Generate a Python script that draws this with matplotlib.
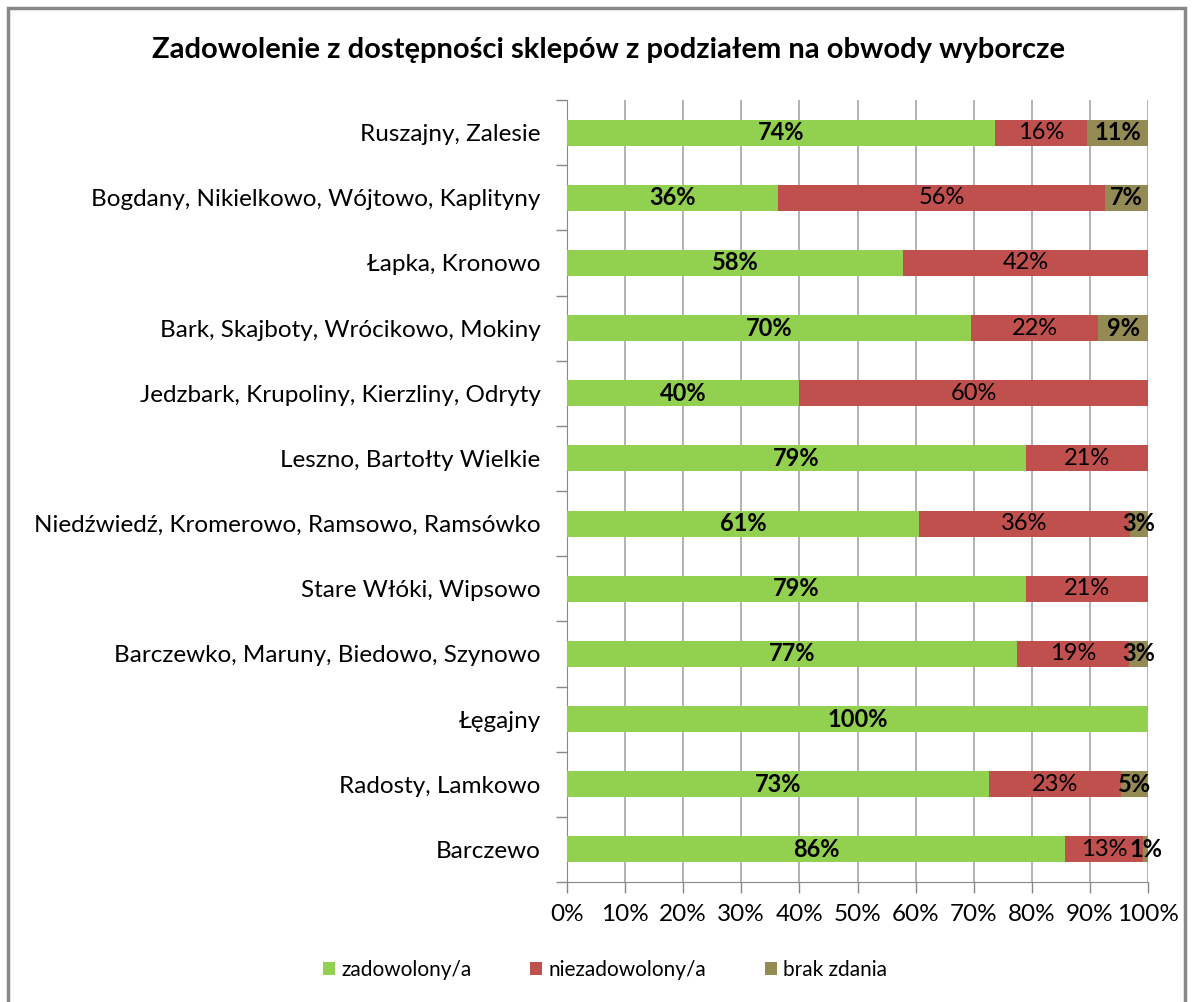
import matplotlib
matplotlib.use("Agg")
import matplotlib.pyplot as plt
from matplotlib.patches import Rectangle
import numpy as np

plt.rcParams['font.family'] = ['Lato', 'DejaVu Sans']

categories = [
    "Ruszajny, Zalesie",
    "Bogdany, Nikielkowo, Wójtowo, Kaplityny",
    "Łapka, Kronowo",
    "Bark, Skajboty, Wrócikowo, Mokiny",
    "Jedzbark, Krupoliny, Kierzliny, Odryty",
    "Leszno, Bartołty Wielkie",
    "Niedźwiedź, Kromerowo, Ramsowo, Ramsówko",
    "Stare Włóki, Wipsowo",
    "Barczewko, Maruny, Biedowo, Szynowo",
    "Łęgajny",
    "Radosty, Lamkowo",
    "Barczewo",
]
zadowolony = [73.7, 36.4, 57.8, 69.6, 40.0, 79.0, 60.6, 79.0, 77.4, 100.0, 72.6, 85.8]
niezadowolony = [15.8, 56.2, 42.2, 21.8, 60.0, 21.0, 36.3, 21.0, 19.4, 0.0, 22.8, 13.4]
brak = [10.6, 7.4, 0.0, 8.6, 0.0, 0.0, 3.1, 0.0, 3.2, 0.0, 4.6, 0.8]
series_names = ["zadowolony/a", "niezadowolony/a", "brak zdania"]
colors = ["#92d050", "#c0504d", "#948a54"]
xticks = list(range(0, 101, 10))

fig = plt.figure(figsize=(11.92, 10.02), dpi=100)
fig.patch.set_facecolor("white")
# outer frame
fig.add_artist(Rectangle((8/1192, -0.05), (1185-8)/1192, 1.05 - 8/1002,
                         transform=fig.transFigure, fill=False,
                         edgecolor="#888888", linewidth=2.5))

ax = fig.add_axes([567/1192, 1 - 882/1002, (1148-567)/1192, (882-100)/1002])
y = np.arange(len(categories))
left = np.zeros(len(categories))
series = [zadowolony, niezadowolony, brak]
weights = ["bold", "normal", "bold"]
for vals, name, col, w in zip(series, series_names, colors, weights):
    vals = np.array(vals)
    ax.barh(y, vals, left=left, height=0.4, color=col, label=name, zorder=3)
    for yi, (l, v) in enumerate(zip(left, vals)):
        if v > 0.5:
            ax.text(l + v / 2, yi, f"{round(v):d}%", ha="center", va="center",
                    fontsize=17, fontweight=w, color="black", zorder=4)
    left = left + vals

ax.set_xlim(0, 100)
ax.set_ylim(len(categories) - 0.5, -0.5)
ax.set_xticks(xticks)
ax.set_xticklabels([f"{t}%" for t in xticks], fontsize=17.5)
ax.set_yticks(y)
ax.set_yticklabels(categories, fontsize=17.5)
ax.set_yticks(np.arange(-0.5, len(categories), 1), minor=True)
ax.tick_params(axis="y", which="major", length=0, pad=19)
ax.tick_params(axis="y", which="minor", length=8, color="#888888", width=1)
ax.tick_params(axis="x", length=8, color="#888888", width=1, pad=8)
ax.grid(axis="x", color="#a6a6a6", linewidth=1.2, zorder=0)
for s in ["top", "right"]:
    ax.spines[s].set_visible(False)
ax.spines["left"].set_color("#888888")
ax.spines["bottom"].set_color("#888888")

fig.text(608/1192, 1 - 50/1002,
         "Zadowolenie z dostępności sklepów z podziałem na obwody wyborcze",
         ha="center", va="center", fontsize=21, fontweight="bold")

handles, labels = ax.get_legend_handles_labels()
fig.legend(handles, labels, loc="center", bbox_to_anchor=(605/1192, 1 - 970/1002),
           ncol=3, frameon=False, fontsize=15, handlelength=0.6, handleheight=0.6,
           columnspacing=2.8, handletextpad=0.3)

fig.savefig("out.png", dpi=100)
